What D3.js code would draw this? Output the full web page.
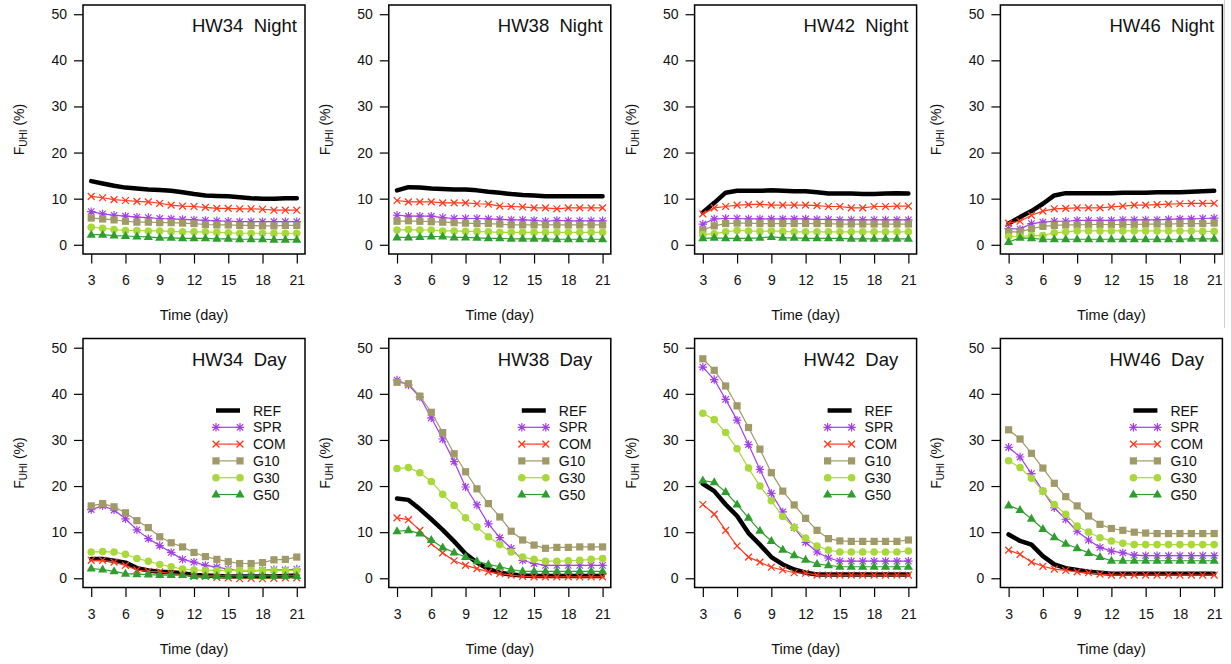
<!DOCTYPE html>
<html>
<head>
<meta charset="utf-8">
<script src="https://cdn.jsdelivr.net/npm/d3@7/dist/d3.min.js"></script>
<style>
  html, body { margin: 0; padding: 0; background: #fff; }
  svg { display: block; font-family: "Liberation Sans", Arial, Helvetica, sans-serif; }
</style>
</head>
<body>
<svg id="chart" width="1231" height="664"></svg>
<script>
// ---------------- data ----------------
const days = [3,4,5,6,7,8,9,10,11,12,13,14,15,16,17,18,19,20,21];
const heatwaves = ["HW34", "HW38", "HW42", "HW46"];
const periods = ["Night", "Day"];
const seriesNames = ["REF", "SPR", "COM", "G10", "G30", "G50"];
const yTicks = [0, 10, 20, 30, 40, 50];
const xTicks = [3, 6, 9, 12, 15, 18, 21];

// Night values, one row per heat wave (HW34, HW38, HW42, HW46)
const refNight = [
  [13.8,13.3,12.8,12.4,12.2,12.0,11.9,11.7,11.4,11.0,10.7,10.6,10.5,10.3,10.1,10.0,10.0,10.1,10.1],
  [11.8,12.5,12.4,12.2,12.1,12.0,12.0,11.8,11.5,11.3,11.0,10.8,10.7,10.5,10.5,10.5,10.5,10.5,10.5],
  [7.0,9.1,11.3,11.7,11.7,11.7,11.8,11.7,11.6,11.6,11.4,11.1,11.1,11.1,11.0,11.0,11.1,11.2,11.1],
  [4.6,6.0,7.3,8.9,10.7,11.2,11.2,11.2,11.2,11.2,11.3,11.3,11.3,11.4,11.4,11.4,11.5,11.6,11.7]
];
const sprNight = [
  [7.2,6.7,6.4,6.2,6.0,5.9,5.7,5.6,5.5,5.4,5.3,5.2,5.1,5.0,5.0,5.0,5.0,5.0,5.0],
  [6.4,6.2,6.2,6.2,5.9,5.7,5.7,5.7,5.6,5.5,5.4,5.4,5.3,5.1,5.3,5.2,5.2,5.2,5.2],
  [4.5,5.6,5.7,5.7,5.6,5.6,5.6,5.6,5.6,5.6,5.5,5.5,5.4,5.4,5.4,5.4,5.4,5.4,5.4],
  [3.5,3.4,4.6,4.9,5.1,5.1,5.3,5.3,5.3,5.3,5.4,5.4,5.4,5.4,5.5,5.6,5.6,5.7,5.8]
];
const comNight = [
  [10.5,10.2,9.8,9.6,9.4,9.3,9.0,8.6,8.4,8.3,8.1,7.9,7.9,7.8,7.8,7.7,7.5,7.5,7.5],
  [9.6,9.3,9.3,9.3,9.1,9.1,9.1,8.9,8.8,8.4,8.3,8.2,8.0,8.0,7.8,8.0,8.0,8.0,8.0],
  [6.7,8.0,8.3,8.6,8.7,8.8,8.6,8.6,8.6,8.6,8.5,8.3,8.3,8.0,8.0,8.3,8.3,8.4,8.4],
  [4.7,5.1,6.4,7.3,7.8,7.9,8.0,8.0,8.0,8.2,8.4,8.6,8.6,8.7,8.8,8.9,9.0,9.0,9.0]
];
const g10Night = [
  [5.8,5.6,5.4,5.1,4.9,4.9,4.8,4.8,4.7,4.6,4.4,4.3,4.3,4.2,4.2,4.1,4.1,4.2,4.2],
  [5.1,5.2,5.1,5.0,4.9,4.8,4.7,4.6,4.6,4.5,4.3,4.3,4.3,4.3,4.3,4.3,4.3,4.3,4.3],
  [3.2,4.1,4.6,4.7,4.7,4.6,4.6,4.6,4.6,4.6,4.6,4.6,4.5,4.5,4.5,4.5,4.5,4.5,4.5],
  [2.8,2.8,3.5,4.0,4.2,4.3,4.3,4.4,4.4,4.4,4.4,4.4,4.5,4.5,4.5,4.6,4.6,4.6,4.7]
];
const g30Night = [
  [3.8,3.6,3.3,3.1,3.1,3.0,3.0,2.9,2.8,2.8,2.8,2.7,2.6,2.5,2.5,2.5,2.5,2.5,2.5],
  [3.2,3.3,3.2,3.2,3.0,3.0,2.9,2.9,2.8,2.7,2.7,2.7,2.7,2.7,2.7,2.7,2.7,2.7,2.7],
  [2.2,2.4,2.8,3.1,3.0,2.9,3.0,2.9,2.8,2.8,2.8,2.8,2.8,2.8,2.8,2.8,2.8,2.8,2.8],
  [1.8,1.8,2.0,2.0,2.6,2.8,3.0,3.0,3.0,3.0,3.0,3.0,3.0,3.0,3.0,3.0,3.0,2.9,2.9]
];
const g50Night = [
  [2.2,2.2,2.0,1.9,1.8,1.7,1.5,1.5,1.4,1.4,1.4,1.3,1.3,1.2,1.2,1.2,1.1,1.1,1.1],
  [1.6,1.6,1.7,1.8,1.8,1.6,1.6,1.5,1.4,1.4,1.3,1.3,1.3,1.3,1.2,1.2,1.2,1.2,1.2],
  [1.4,1.5,1.4,1.4,1.4,1.5,1.7,1.5,1.5,1.4,1.4,1.4,1.4,1.3,1.3,1.3,1.3,1.3,1.3],
  [0.6,1.5,1.4,1.2,1.2,1.2,1.2,1.2,1.2,1.2,1.2,1.2,1.2,1.2,1.2,1.2,1.3,1.3,1.3]
];

// Day values, one row per heat wave (HW34, HW38, HW42, HW46)
const refDay = [
  [4.2,4.2,3.8,3.4,2.2,1.7,1.4,1.3,1.1,0.7,0.6,0.5,0.4,0.4,0.4,0.4,0.4,0.5,0.6],
  [17.3,17.0,15.0,12.8,10.5,8.0,5.3,3.4,2.0,1.2,0.8,0.6,0.5,0.5,0.5,0.5,0.5,0.5,0.5],
  [20.5,18.9,16.0,13.5,9.8,7.3,4.6,3.0,1.9,1.2,0.8,0.8,0.8,0.8,0.8,0.8,0.8,0.8,0.8],
  [9.5,8.1,7.3,4.8,3.0,2.2,1.8,1.4,1.2,1.0,1.0,1.0,1.0,1.0,1.0,1.0,1.0,1.0,1.0]
];
const sprDay = [
  [14.9,15.7,14.8,12.9,10.5,8.6,7.1,5.6,4.1,3.5,2.8,2.4,2.0,1.6,1.6,1.7,1.9,1.8,2.0],
  [43.0,41.9,39.3,34.8,30.2,25.3,19.8,15.9,11.8,8.8,6.5,3.9,3.2,2.8,2.8,2.8,2.8,2.8,2.8],
  [45.8,43.1,38.8,34.3,29.0,23.6,18.4,14.4,11.0,7.8,5.7,4.4,3.7,3.7,3.7,3.7,3.7,3.7,3.7],
  [28.4,26.3,22.7,18.9,15.3,12.8,10.2,8.3,6.7,5.9,5.5,5.0,4.9,4.9,4.9,4.9,4.9,4.9,4.9]
];
const comDay = [
  [3.9,3.9,3.5,2.8,1.8,1.5,1.4,1.0,0.8,0.4,0.4,0.2,0.1,-0.1,0.0,-0.1,0.0,0.1,0.1],
  [13.1,12.7,10.4,7.5,5.5,3.8,2.8,2.1,1.4,1.0,0.7,0.4,0.3,0.3,0.3,0.3,0.3,0.3,0.3],
  [16.0,13.9,10.4,7.0,4.6,3.5,2.4,1.8,1.2,1.1,0.7,0.7,0.7,0.7,0.7,0.7,0.7,0.7,0.7],
  [6.1,5.2,3.5,2.6,2.0,1.7,1.4,1.2,0.9,0.7,0.7,0.7,0.7,0.7,0.7,0.7,0.7,0.7,0.7]
];
const g10Day = [
  [15.7,16.2,15.5,14.2,12.5,11.0,9.0,7.7,6.8,5.6,4.7,4.1,3.6,3.2,3.2,3.4,4.0,4.1,4.6],
  [42.5,42.2,39.5,36.0,31.6,27.0,23.1,19.4,16.2,13.3,10.2,8.3,7.2,6.5,6.7,6.7,6.8,6.8,6.8],
  [47.6,45.1,41.7,37.4,32.7,28.0,22.9,18.9,15.9,13.0,10.4,8.6,8.1,8.0,8.0,8.0,8.0,8.0,8.3],
  [32.2,30.2,27.1,23.9,20.6,17.7,15.7,13.5,11.7,10.8,10.4,10.0,9.8,9.7,9.7,9.7,9.7,9.7,9.7]
];
const g30Day = [
  [5.7,5.8,5.7,5.2,4.3,3.7,3.0,2.5,2.0,1.8,1.7,1.7,1.7,1.7,1.7,1.7,1.7,1.7,1.7],
  [23.8,24.0,22.9,21.0,18.2,15.8,13.1,11.1,9.0,7.3,5.7,4.6,4.1,3.7,3.7,3.8,3.9,4.1,4.3],
  [35.8,34.4,31.6,28.1,23.9,20.0,16.8,13.4,11.0,8.7,7.0,6.1,5.7,5.7,5.7,5.7,5.7,5.7,5.9],
  [25.5,24.0,21.7,18.9,16.0,13.9,11.3,10.0,8.8,8.1,7.6,7.3,7.3,7.3,7.3,7.3,7.3,7.3,7.3]
];
const g50Day = [
  [2.1,1.9,1.5,1.0,0.9,0.8,0.7,0.7,0.7,0.5,0.5,0.5,0.5,0.5,0.5,0.5,0.5,0.5,0.5],
  [10.2,10.4,9.7,8.3,6.7,5.6,4.6,3.7,3.0,2.5,1.9,1.5,1.5,1.5,1.5,1.5,1.5,1.5,1.5],
  [21.2,20.8,18.7,16.0,13.1,10.3,8.1,6.2,5.0,4.0,3.1,2.8,2.5,2.5,2.5,2.5,2.5,2.5,2.5],
  [15.8,14.8,12.9,10.7,8.9,7.5,6.5,5.5,4.6,3.8,3.8,3.8,3.8,3.8,3.8,3.8,3.8,3.8,3.8]
];

const nightData = [refNight, sprNight, comNight, g10Night, g30Night, g50Night];
const dayData = [refDay, sprDay, comDay, g10Day, g30Day, g50Day];

// ---------------- styles ----------------
const colors = {
  REF: "#000000", SPR: "#a23fe6", COM: "#ff3a1c",
  G10: "#9f9a68", G30: "#a8d83a", G50: "#2f9e2f"
};

const svg = d3.select("#chart");

// right-edge stray separator line seen in the reference
svg.append("line").attr("x1", 1224.5).attr("x2", 1224.5).attr("y1", 0).attr("y2", 328)
  .attr("stroke", "#d0d0d0").attr("stroke-width", 1);

const colW = 305.8, rowH = 333.5;
const boxL = 83, boxW = 222, boxT = 5, boxH = 249;

function marker(g, name, x, y) {
  const c = colors[name];
  if (name === "SPR") {
    const s = 4.2, k = 3.2;
    g.append("path").attr("transform", `translate(${x},${y})`)
      .attr("d", `M${-s},0L${s},0M0,${-s}L0,${s}M${-k},${-k}L${k},${k}M${-k},${k}L${k},${-k}`)
      .attr("stroke", c).attr("stroke-width", 1.2).attr("fill", "none");
  } else if (name === "COM") {
    const k = 3.4;
    g.append("path").attr("transform", `translate(${x},${y})`)
      .attr("d", `M${-k},${-k}L${k},${k}M${-k},${k}L${k},${-k}`)
      .attr("stroke", c).attr("stroke-width", 1.3).attr("fill", "none");
  } else if (name === "G10") {
    g.append("rect").attr("x", x - 3.6).attr("y", y - 3.6).attr("width", 7.2).attr("height", 7.2)
      .attr("fill", c);
  } else if (name === "G30") {
    g.append("circle").attr("cx", x).attr("cy", y).attr("r", 3.8).attr("fill", c);
  } else if (name === "G50") {
    g.append("path").attr("transform", `translate(${x},${y})`)
      .attr("d", "M0,-5L4.6,3L-4.6,3Z").attr("fill", c);
  }
}

periods.forEach((period, r) => {
  const data = period === "Night" ? nightData : dayData;
  heatwaves.forEach((hw, c) => {
    const ox = c * colW, oy = r * rowH;
    const L = ox + boxL, T = oy + boxT;
    const g = svg.append("g");

    const x = d3.scaleLinear().domain([2.28, 21.72]).range([L, L + boxW]);
    const y = d3.scaleLinear().domain([-2, 52]).range([T + boxH, T]);

    // y axis
    const yAxis = d3.axisLeft(y).tickValues(yTicks).tickSize(9).tickPadding(7).tickFormat(d3.format("d"));
    const ya = g.append("g").attr("transform", `translate(${L},0)`).call(yAxis);
    ya.select(".domain").remove();
    ya.selectAll(".tick line").attr("stroke", "#000").attr("stroke-width", 1.2);
    ya.selectAll(".tick text").attr("font-size", 14).attr("fill", "#111")
      .attr("font-family", "Liberation Sans, Arial, sans-serif");

    // x axis
    const xAxis = d3.axisBottom(x).tickValues(xTicks).tickSize(9.5).tickPadding(12).tickFormat(d3.format("d"));
    const xa = g.append("g").attr("transform", `translate(0,${T + boxH})`).call(xAxis);
    xa.select(".domain").remove();
    xa.selectAll(".tick line").attr("stroke", "#000").attr("stroke-width", 1.2);
    xa.selectAll(".tick text").attr("font-size", 14).attr("fill", "#111")
      .attr("font-family", "Liberation Sans, Arial, sans-serif");

    // axis titles
    g.append("text").attr("x", L + boxW / 2).attr("y", T + boxH + 66)
      .attr("text-anchor", "middle").attr("font-size", 14.5).attr("fill", "#111")
      .text("Time (day)");
    const yl = g.append("text")
      .attr("transform", `translate(${ox + 24},${T + boxH / 2}) rotate(-90)`)
      .attr("text-anchor", "middle").attr("font-size", 14).attr("fill", "#111");
    yl.append("tspan").text("F");
    yl.append("tspan").attr("font-size", 10).attr("dy", 3).text("UHI");
    yl.append("tspan").attr("dy", -3).text(" (%)");

    // series
    const clipId = `clip-${r}-${c}`;
    g.append("clipPath").attr("id", clipId).append("rect")
      .attr("x", L).attr("y", T).attr("width", boxW).attr("height", boxH);
    const plot = g.append("g").attr("clip-path", `url(#${clipId})`);
    const line = d3.line().x((d, i) => x(days[i])).y(d => y(d));

    seriesNames.forEach((name, si) => {
      const vals = data[si][c];
      plot.append("path").attr("d", line(vals)).attr("fill", "none")
        .attr("stroke", colors[name])
        .attr("stroke-width", name === "REF" ? 4.5 : 1.2)
        .attr("stroke-linejoin", "round").attr("stroke-linecap", "round");
      if (name !== "REF") {
        vals.forEach((v, i) => marker(plot, name, x(days[i]), y(v)));
      }
    });

    // frame
    g.append("rect").attr("x", L).attr("y", T).attr("width", boxW).attr("height", boxH)
      .attr("fill", "none").attr("stroke", "#000").attr("stroke-width", 1.5);

    // panel title
    g.append("text").attr("x", L + 109).attr("y", T + 27)
      .attr("font-size", 18.5).attr("fill", "#111")
      .text(hw + "\u00a0\u00a0" + period);

    // legend in day panels
    if (period === "Day") {
      const lg = g.append("g");
      seriesNames.forEach((name, si) => {
        const ly = T + 72 + si * 16.8;
        lg.append("line").attr("x1", L + 133).attr("x2", L + 157).attr("y1", ly).attr("y2", ly)
          .attr("stroke", colors[name]).attr("stroke-width", name === "REF" ? 4.5 : 1.2);
        if (name !== "REF") {
          marker(lg, name, L + 133, ly);
          marker(lg, name, L + 157, ly);
        }
        lg.append("text").attr("x", L + 170).attr("y", ly).attr("dy", "0.36em")
          .attr("font-size", 14).attr("fill", "#111").text(name);
      });
    }
  });
});
</script>
</body>
</html>
